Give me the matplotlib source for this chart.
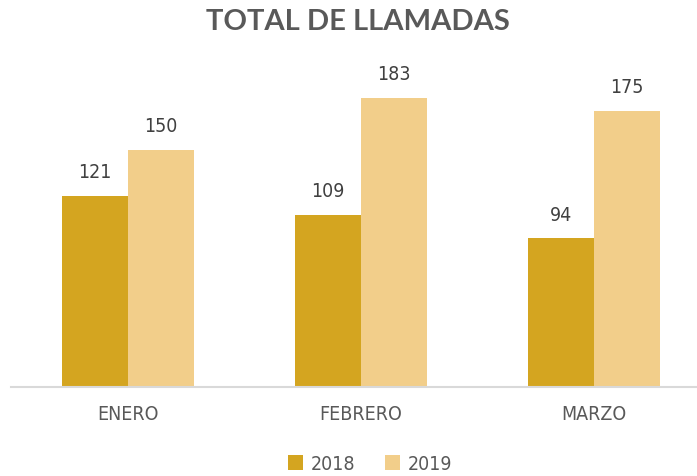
import matplotlib
matplotlib.use("Agg")
import matplotlib.pyplot as plt
import numpy as np
from matplotlib.font_manager import fontManager

categories = ["ENERO", "FEBRERO", "MARZO"]
series_names = ["2018", "2019"]
values_2018 = [121, 109, 94]
values_2019 = [150, 183, 175]

names = {f.name for f in fontManager.ttflist}
cond = "Liberation Sans Narrow" if "Liberation Sans Narrow" in names else "DejaVu Sans"
plt.rcParams['font.family'] = [cond, 'DejaVu Sans']
plt.rcParams['font.stretch'] = 'condensed'

c2018 = "#D4A520"
c2019 = "#F2CE8A"

fig = plt.figure(figsize=(6.97, 4.76), dpi=100)
ax = fig.add_axes([11.5/697, 89/476, 699/697, (387-71)/476])

x = np.arange(len(categories))
w = 0.285
b1 = ax.bar(x - w/2, values_2018, w, color=c2018, label=series_names[0])
b2 = ax.bar(x + w/2, values_2019, w, color=c2019, label=series_names[1])

for bars in (b1, b2):
    for r in bars:
        ax.annotate(f"{int(r.get_height())}", (r.get_x() + r.get_width()/2, r.get_height()),
                    xytext=(0, 10), textcoords="offset points", ha="center", va="bottom",
                    fontsize=14, color="#404040")

ax.set_xlim(-0.5, 2.5)
ax.set_ylim(0, 200)
ax.set_yticks([])
for s in ["top", "right", "left"]:
    ax.spines[s].set_visible(False)
ax.spines["bottom"].set_color("#D9D9D9")
ax.spines["bottom"].set_linewidth(1.5)
ax.set_xticks(x)
ax.set_xticklabels(categories, fontsize=14, color="#595959")
ax.tick_params(axis="x", length=0, pad=13)

fig.text(358/697, 1 - 22/476, "TOTAL DE LLAMADAS", ha="center", va="center",
         fontsize=21, fontweight="bold", color="#595959", family=["Lato", "DejaVu Sans"],
         fontstretch="normal")

fig.legend(handles=[b1, b2], labels=series_names, loc="center", bbox_to_anchor=(370/697, 1 - 464/476),
           ncol=2, frameon=False, fontsize=14, labelcolor="#595959",
           handlelength=0.8, handleheight=0.8, handletextpad=0.4, columnspacing=1.5)

fig.savefig("out.png", dpi=100)
